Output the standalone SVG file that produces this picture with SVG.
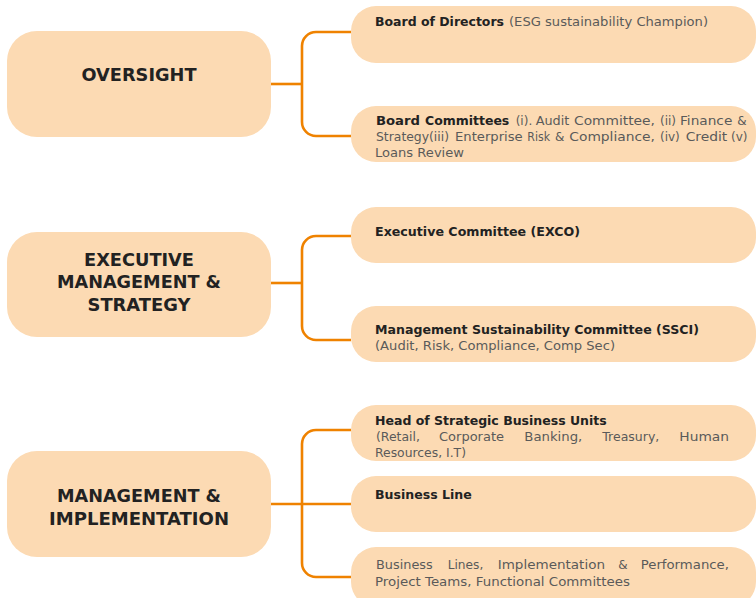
<svg xmlns="http://www.w3.org/2000/svg" width="756" height="598" viewBox="0 0 756 598">
  <defs>
    <style>
      .tier { fill: #FCDAB3; }
      .item { fill: #FCDAB3; }
      .head { font-family: "DejaVu Sans", "Liberation Sans", sans-serif; font-weight: bold; font-size: 18px; fill: #222222; text-anchor: middle; }
      .b { font-family: "DejaVu Sans", "Liberation Sans", sans-serif; font-weight: bold; font-size: 11.5px; fill: #222222; }
      .r { font-family: "DejaVu Sans", "Liberation Sans", sans-serif; font-size: 12px; fill: #5a5a5a; }
      .link { fill: none; stroke: #EF8200; stroke-width: 2.6; }
    </style>
  </defs>

  <rect width="756" height="598" fill="#ffffff"/>

  <!-- connectors -->
  <g id="connectors">
    <path class="link" d="M271,84 H302"/>
    <path class="link" d="M351,32 H316 A14,14 0 0 0 302,46 V122 A14,14 0 0 0 316,136 H351"/>
    <path class="link" d="M271,283 H302"/>
    <path class="link" d="M351,236 H316 A14,14 0 0 0 302,250 V326 A14,14 0 0 0 316,340 H351"/>
    <path class="link" d="M271,504 H351"/>
    <path class="link" d="M351,430 H316 A14,14 0 0 0 302,444 V563 A14,14 0 0 0 316,577 H351"/>
  </g>

  <!-- tier: oversight -->
  <g id="oversight">
    <rect class="tier" x="7" y="31" width="264" height="106" rx="30"/>
    <text class="head" x="139" y="81" textLength="115" lengthAdjust="spacingAndGlyphs">OVERSIGHT</text>
  </g>

  <g id="board-of-directors">
    <rect class="item" x="351" y="6" width="405" height="57" rx="25"/>
    <text class="b" x="375" y="26" textLength="129" lengthAdjust="spacingAndGlyphs">Board of Directors</text>
    <text class="r" x="509" y="26" textLength="199" lengthAdjust="spacingAndGlyphs">(ESG sustainability Champion)</text>
  </g>

  <!-- justified paragraph: one text per word -->
  <g id="board-committees">
    <rect class="item" x="351" y="106" width="405" height="56" rx="25"/>
    <text class="b" x="376" y="125" textLength="44" lengthAdjust="spacingAndGlyphs">Board</text>
    <text class="b" x="425" y="125" textLength="84.3" lengthAdjust="spacingAndGlyphs">Committees</text>
    <text class="r" x="515.7" y="125">(i).</text>
    <text class="r" x="535.7" y="125" textLength="33.6" lengthAdjust="spacingAndGlyphs">Audit</text>
    <text class="r" x="574" y="125" textLength="81" lengthAdjust="spacingAndGlyphs">Committee,</text>
    <text class="r" x="660" y="125">(ii)</text>
    <text class="r" x="680" y="125" textLength="52.3" lengthAdjust="spacingAndGlyphs">Finance</text>
    <text class="r" x="737.3" y="125">&amp;</text>

    <text class="r" x="376" y="141.3" textLength="73" lengthAdjust="spacingAndGlyphs">Strategy(iii)</text>
    <text class="r" x="455" y="141.3" textLength="67.7" lengthAdjust="spacingAndGlyphs">Enterprise</text>
    <text class="r" x="527.3" y="141.3" textLength="22.7" lengthAdjust="spacingAndGlyphs">Risk</text>
    <text class="r" x="555" y="141.3">&amp;</text>
    <text class="r" x="569.3" y="141.3" textLength="85.7" lengthAdjust="spacingAndGlyphs">Compliance,</text>
    <text class="r" x="660" y="141.3">(iv)</text>
    <text class="r" x="685.7" y="141.3" textLength="41.6" lengthAdjust="spacingAndGlyphs">Credit</text>
    <text class="r" x="731" y="141.3">(v)</text>

    <text class="r" x="375" y="157" textLength="89" lengthAdjust="spacingAndGlyphs">Loans Review</text>
  </g>

  <!-- tier: executive management & strategy -->
  <g id="executive-management">
    <rect class="tier" x="7" y="232" width="264" height="105" rx="30"/>
    <text class="head" x="139" y="265.7" textLength="110" lengthAdjust="spacingAndGlyphs">EXECUTIVE</text>
    <text class="head" x="139" y="288.2" textLength="164" lengthAdjust="spacingAndGlyphs">MANAGEMENT &amp;</text>
    <text class="head" x="139" y="310.7" textLength="103" lengthAdjust="spacingAndGlyphs">STRATEGY</text>
  </g>

  <g id="exco">
    <rect class="item" x="351" y="207" width="405" height="56" rx="25"/>
    <text class="b" x="375" y="236" textLength="205" lengthAdjust="spacingAndGlyphs">Executive Committee (EXCO)</text>
  </g>

  <g id="ssci">
    <rect class="item" x="351" y="306" width="405" height="56" rx="25"/>
    <text class="b" x="375" y="334" textLength="324" lengthAdjust="spacingAndGlyphs">Management Sustainability Committee (SSCI)</text>
    <text class="r" x="375" y="350" textLength="240" lengthAdjust="spacingAndGlyphs">(Audit, Risk, Compliance,  Comp Sec)</text>
  </g>

  <!-- tier: management & implementation -->
  <g id="management-implementation">
    <rect class="tier" x="7" y="451" width="264" height="106" rx="30"/>
    <text class="head" x="139" y="501.7" textLength="164" lengthAdjust="spacingAndGlyphs">MANAGEMENT &amp;</text>
    <text class="head" x="139" y="525" textLength="180" lengthAdjust="spacingAndGlyphs">IMPLEMENTATION</text>
  </g>

  <g id="strategic-business-units">
    <rect class="item" x="351" y="405" width="405" height="56" rx="25"/>
    <text class="b" x="375" y="425" textLength="231.7" lengthAdjust="spacingAndGlyphs">Head of Strategic Business Units</text>
    <text class="r" x="376" y="440.7" textLength="44" lengthAdjust="spacingAndGlyphs">(Retail,</text>
    <text class="r" x="439" y="440.7" textLength="65" lengthAdjust="spacingAndGlyphs">Corporate</text>
    <text class="r" x="524.3" y="440.7" textLength="58" lengthAdjust="spacingAndGlyphs">Banking,</text>
    <text class="r" x="602.3" y="440.7" textLength="57" lengthAdjust="spacingAndGlyphs">Treasury,</text>
    <text class="r" x="679.3" y="440.7" textLength="49.7" lengthAdjust="spacingAndGlyphs">Human</text>
    <text class="r" x="375" y="456.7" textLength="91" lengthAdjust="spacingAndGlyphs">Resources, I.T)</text>
  </g>

  <g id="business-line">
    <rect class="item" x="351" y="476" width="405" height="56" rx="25"/>
    <text class="b" x="375" y="499" textLength="96.7" lengthAdjust="spacingAndGlyphs">Business Line</text>
  </g>

  <g id="implementation-teams">
    <rect class="item" x="351" y="547" width="405" height="60" rx="25"/>
    <text class="r" x="376" y="569.3" textLength="56.7" lengthAdjust="spacingAndGlyphs">Business</text>
    <text class="r" x="447.7" y="569.3" textLength="35.6" lengthAdjust="spacingAndGlyphs">Lines,</text>
    <text class="r" x="497.7" y="569.3" textLength="107.3" lengthAdjust="spacingAndGlyphs">Implementation</text>
    <text class="r" x="618.3" y="569.3">&amp;</text>
    <text class="r" x="640.7" y="569.3" textLength="88.3" lengthAdjust="spacingAndGlyphs">Performance,</text>
    <text class="r" x="375" y="585.7" textLength="255" lengthAdjust="spacingAndGlyphs">Project Teams, Functional Committees</text>
  </g>
</svg>
